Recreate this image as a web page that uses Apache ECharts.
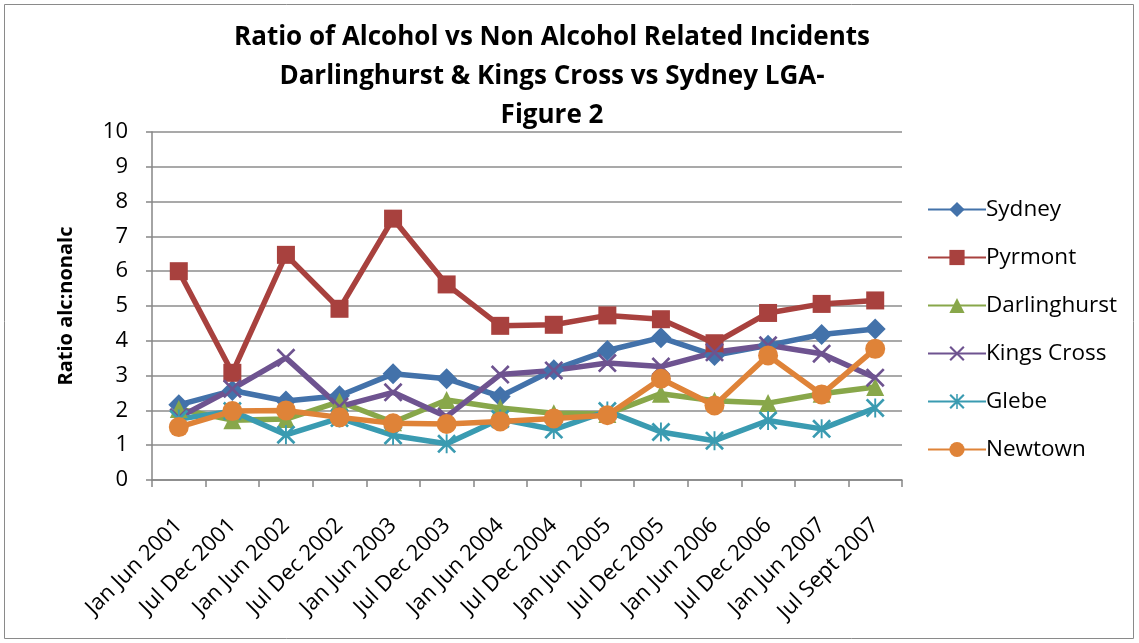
<!DOCTYPE html>
<html>
<head>
<meta charset="utf-8">
<script src="https://cdn.jsdelivr.net/npm/echarts@6/dist/echarts.min.js"></script>
<style>
  html, body { margin: 0; padding: 0; background: #fff; }
  #chart { width: 1139px; height: 643px; }
</style>
</head>
<body>
<div id="chart"></div>
<script>
// Half-year periods
const periods = [
  'Jan Jun 2001', 'Jul Dec 2001', 'Jan Jun 2002', 'Jul Dec 2002',
  'Jan Jun 2003', 'Jul Dec 2003', 'Jan Jun 2004', 'Jul Dec 2004',
  'Jan Jun 2005', 'Jul Dec 2005', 'Jan Jun 2006', 'Jul Dec 2006',
  'Jan Jun 2007', 'Jul Sept 2007'
];

// Ratio of alcohol to non-alcohol related incidents per area
const sydney       = [2.16, 2.57, 2.27, 2.42, 3.05, 2.91, 2.40, 3.17, 3.72, 4.09, 3.58, 3.87, 4.18, 4.34];
const pyrmont      = [6.00, 3.08, 6.47, 4.92, 7.51, 5.62, 4.43, 4.46, 4.73, 4.62, 3.93, 4.80, 5.06, 5.16];
const darlinghurst = [2.04, 1.72, 1.75, 2.25, 1.66, 2.30, 2.07, 1.92, 1.90, 2.48, 2.28, 2.21, 2.48, 2.67];
const kingsCross   = [1.80, 2.62, 3.51, 2.11, 2.52, 1.82, 3.03, 3.15, 3.36, 3.26, 3.67, 3.87, 3.63, 2.94];
const glebe        = [1.75, 1.98, 1.30, 1.78, 1.28, 1.04, 1.75, 1.45, 1.98, 1.38, 1.13, 1.71, 1.47, 2.07];
const newtown      = [1.52, 1.98, 2.00, 1.80, 1.63, 1.61, 1.68, 1.77, 1.86, 2.91, 2.14, 3.58, 2.46, 3.77];

const yTicks = { min: 0, max: 10, step: 1 };

const FONT = '"Open Sans", "Liberation Sans", sans-serif';

// Marker shapes drawn as filled outlines
const crossPath = 'path://M2,0 L10,8 L18,0 L20,2 L12,10 L20,18 L18,20 L10,12 L2,20 L0,18 L8,10 L0,2 Z';
const starPath  = 'path://M2,0 L10,8 L18,0 L20,2 L12,10 L20,18 L18,20 L10,12 L2,20 L0,18 L8,10 L0,2 Z M9,0 L11,0 L11,20 L9,20 Z';

const seriesDefs = [
  { name: 'Sydney',       data: sydney,       color: '#4372AA', symbol: 'diamond',  size: 21 },
  { name: 'Pyrmont',      data: pyrmont,      color: '#A8413E', symbol: 'rect',     size: 18 },
  { name: 'Darlinghurst', data: darlinghurst, color: '#88A74A', symbol: 'triangle', size: 18 },
  { name: 'Kings Cross',  data: kingsCross,   color: '#6E5390', symbol: crossPath,  size: 19 },
  { name: 'Glebe',        data: glebe,        color: '#3A9BB1', symbol: starPath,   size: 19 },
  { name: 'Newtown',      data: newtown,      color: '#DF8338', symbol: 'circle',   size: 20 }
];

const chart = echarts.init(document.getElementById('chart'), null, { renderer: 'canvas' });

chart.setOption({
  backgroundColor: '#ffffff',
  animation: false,
  title: {
    text: 'Ratio of Alcohol vs Non Alcohol Related Incidents\nDarlinghurst & Kings Cross vs Sydney LGA-\nFigure 2',
    left: 547,
    top: 13,
    textAlign: 'center',
    textStyle: {
      fontFamily: FONT,
      fontWeight: 'bold',
      fontSize: 26,
      lineHeight: 39,
      color: '#000'
    }
  },
  graphic: [{
    type: 'rect',
    shape: { x: 4.5, y: 4.5, width: 1129, height: 634 },
    style: { fill: 'none', stroke: '#8a8a8a', lineWidth: 1 },
    silent: true
  }],
  legend: {
    orient: 'vertical',
    left: 922,
    top: 193,
    itemWidth: 58,
    itemHeight: 19,
    itemGap: 25,
    textStyle: { fontFamily: FONT, fontSize: 22.5, color: '#000', padding: [0, 0, 0, -5] },
    data: seriesDefs.map(s => s.name)
  },
  grid: { left: 152, right: 237, top: 132, bottom: 163, containLabel: false },
  xAxis: {
    type: 'category',
    data: periods,
    boundaryGap: true,
    axisLine: { lineStyle: { color: '#868686', width: 1.5 } },
    axisTick: { show: true, length: 7, alignWithLabel: false, lineStyle: { color: '#868686', width: 1.5 } },
    axisLabel: {
      rotate: 45,
      interval: 0,
      margin: 42,
      fontFamily: FONT,
      fontSize: 22,
      color: '#000'
    }
  },
  yAxis: {
    type: 'value',
    min: yTicks.min,
    max: yTicks.max,
    interval: yTicks.step,
    name: 'Ratio alc:nonalc',
    nameLocation: 'middle',
    nameGap: 76,
    nameTextStyle: { fontFamily: FONT, fontWeight: 'bold', fontSize: 20, color: '#000' },
    axisLine: { show: true, lineStyle: { color: '#868686', width: 1.5 } },
    axisTick: { show: true, length: 6, lineStyle: { color: '#868686', width: 1.5 } },
    axisLabel: { fontFamily: FONT, fontSize: 22, color: '#000', margin: 24 },
    splitLine: { show: true, lineStyle: { color: '#8c8c8c', width: 1.5 } }
  },
  series: seriesDefs.map(s => ({
    name: s.name,
    type: 'line',
    data: s.data,
    symbol: s.symbol,
    symbolSize: s.size,
    showAllSymbol: true,
    color: s.color,
    lineStyle: { color: s.color, width: 5.5 },
    itemStyle: { color: s.color },
    emphasis: { disabled: true }
  }))
});
</script>
</body>
</html>
